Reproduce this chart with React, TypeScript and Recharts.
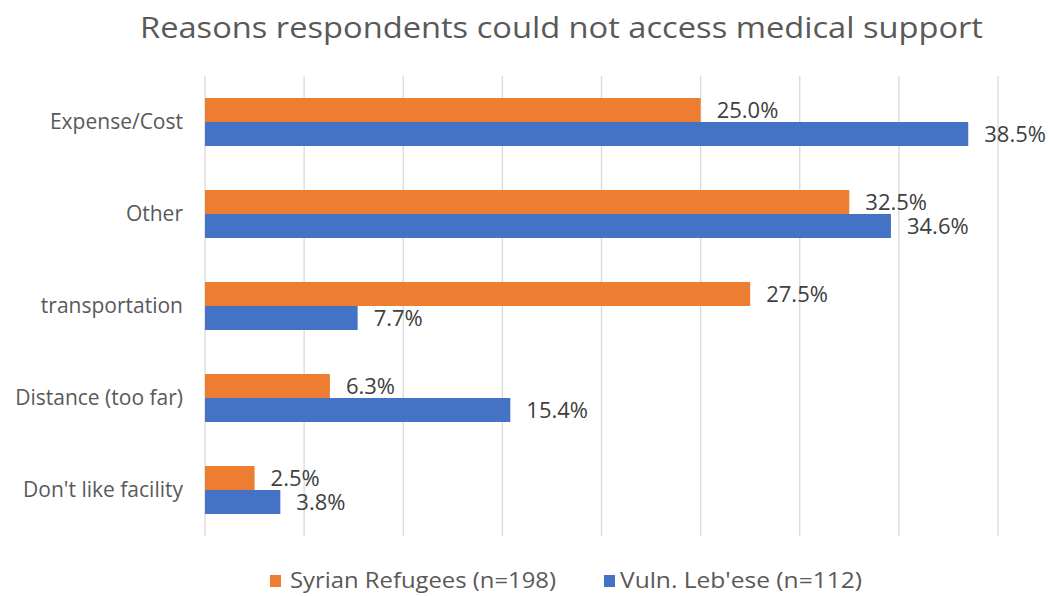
import React from "react";
import {
  BarChart,
  Bar,
  XAxis,
  YAxis,
  CartesianGrid,
  LabelList,
  Legend,
} from "recharts";

const categories = [
  "Expense/Cost",
  "Other",
  "transportation",
  "Distance (too far)",
  "Don't like facility",
];
const syrian = [25.0, 32.5, 27.5, 6.3, 2.5];
const lebanese = [38.5, 34.6, 7.7, 15.4, 3.8];
const xTicks = [0, 5, 10, 15, 20, 25, 30, 35, 40];

const ORANGE = "#ED7D31";
const BLUE = "#4472C4";
const FONT = "'Open Sans', 'Noto Sans', sans-serif";

const data = categories.map((name, i) => ({
  name,
  syrian: syrian[i],
  lebanese: lebanese[i],
}));

const pct = (v: any) => `${Number(v).toFixed(1)}%`;

function LegendBox() {
  return (
    <svg width={1053} height={30} style={{ display: "block" }}>
      <rect x={270} y={9} width={11} height={12} fill={ORANGE} />
      <text
        x={290}
        y={22}
        fontSize={21}
        fill="#595959"
        fontFamily={FONT}
        textLength={266}
        lengthAdjust="spacingAndGlyphs"
      >
        Syrian Refugees (n=198)
      </text>
      <rect x={604} y={9} width={11} height={12} fill={BLUE} />
      <text
        x={620}
        y={22}
        fontSize={21}
        fill="#595959"
        fontFamily={FONT}
        textLength={242}
        lengthAdjust="spacingAndGlyphs"
      >
        Vuln. Leb'ese (n=112)
      </text>
    </svg>
  );
}

export default function App() {
  return (
    <div
      style={{
        position: "absolute",
        left: 0,
        top: 0,
        width: 1053,
        height: 596,
        background: "#fff",
        overflow: "hidden",
      }}
    >
      <svg
        width={1053}
        height={60}
        style={{ position: "absolute", left: 0, top: 0 }}
      >
        <text
          x={140}
          y={38}
          fontSize={30}
          fill="#595959"
          fontFamily={FONT}
          textLength={843}
          lengthAdjust="spacingAndGlyphs"
        >
          Reasons respondents could not access medical support
        </text>
      </svg>
      <BarChart
        width={1053}
        height={596}
        data={data}
        layout="vertical"
        margin={{ top: 76, right: 55, bottom: 30, left: 0 }}
        barCategoryGap={22}
        barGap={0}
      >
        <CartesianGrid
          horizontal={false}
          stroke="#d9d9d9"
          strokeWidth={1.3}
        />
        <XAxis
          type="number"
          domain={[0, 40]}
          ticks={xTicks}
          tick={() => <g />}
          axisLine={false}
          tickLine={false}
          height={0}
        />
        <YAxis
          type="category"
          dataKey="name"
          width={205}
          axisLine={false}
          tickLine={false}
          tickMargin={16}
          tick={{ fontSize: 21, fill: "#595959", fontFamily: FONT }}
        />
        <Legend
          verticalAlign="bottom"
          wrapperStyle={{ left: 0, bottom: 0 }}
          content={() => <LegendBox />}
        />
        <Bar dataKey="syrian" fill={ORANGE} isAnimationActive={false}>
          <LabelList
            dataKey="syrian"
            position="right"
            offset={16}
            formatter={pct}
            style={{ fontSize: 22, fill: "#404040", fontFamily: FONT }}
          />
        </Bar>
        <Bar dataKey="lebanese" fill={BLUE} isAnimationActive={false}>
          <LabelList
            dataKey="lebanese"
            position="right"
            offset={16}
            formatter={pct}
            style={{ fontSize: 22, fill: "#404040", fontFamily: FONT }}
          />
        </Bar>
      </BarChart>
    </div>
  );
}
